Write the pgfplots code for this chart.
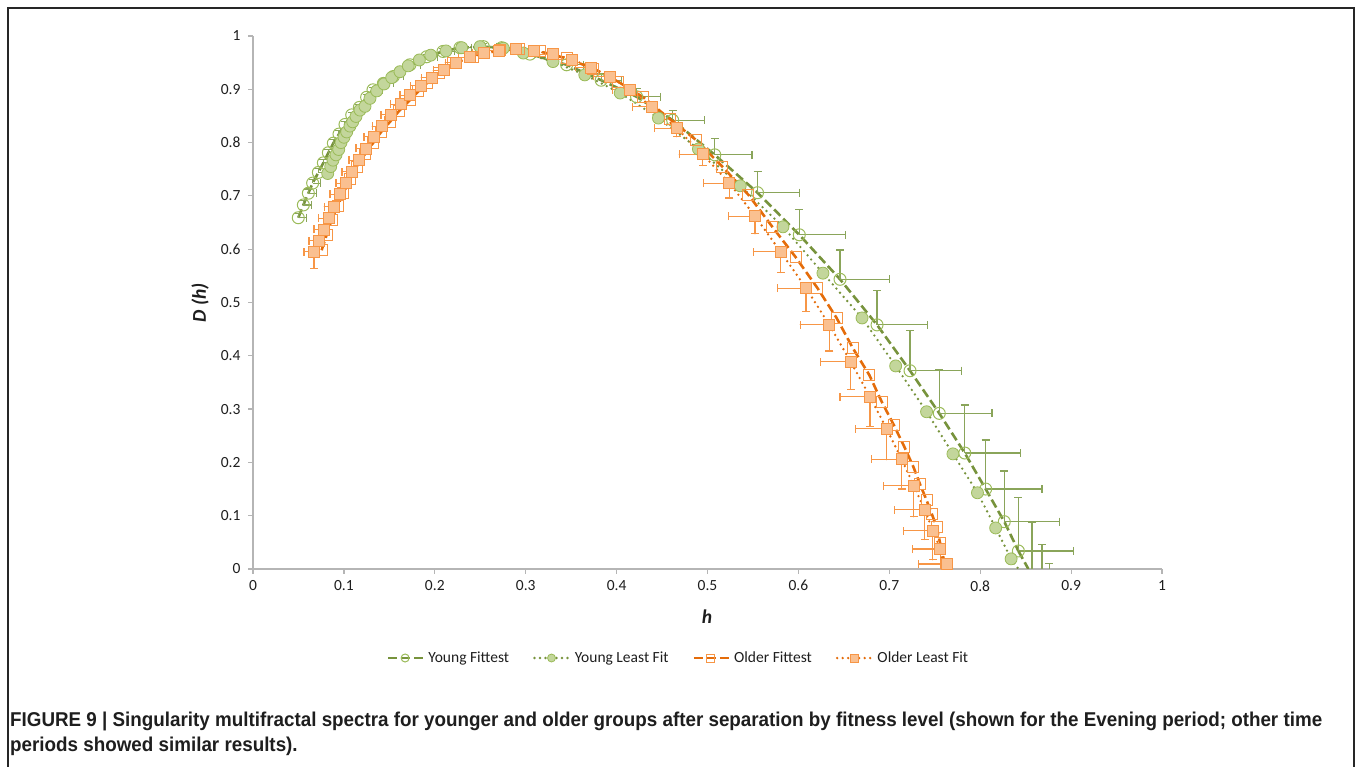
\documentclass[border=0pt]{standalone}
\usepackage{fontspec}
\setmainfont{Carlito}
\newfontfamily\capfont{Liberation Sans}
\usepackage{pgfplots}
\usepackage{pgfplotstable}
\pgfplotsset{compat=1.18}
\definecolor{gdark}{HTML}{77933C}
\definecolor{gbar}{HTML}{8AA55A}
\definecolor{gfill}{HTML}{C3D69B}
\definecolor{gedge}{HTML}{9BBB59}
\definecolor{odark}{HTML}{E46C0A}
\definecolor{ofill}{HTML}{FAC090}
\definecolor{oedge}{HTML}{F79646}
\definecolor{axgray}{HTML}{B5B5B5}
\definecolor{txt}{HTML}{1E1E1E}
\newlength\capw
\newcommand\capone{FIGURE 9 | Singularity multifractal spectra for younger and older groups after separation by fitness level (shown for the Evening period; other time}
\newcommand\capsty{\capfont\bfseries\fontsize{20pt}{22pt}\selectfont}

\pgfplotstableread{
h D ex ey
0.0498 0.659 0.009 0.008
0.0554 0.683 0.009 0.008
0.0609 0.705 0.009 0.008
0.0656 0.724 0.009 0.007
0.0719 0.744 0.009 0.007
0.0774 0.762 0.009 0.007
0.0829 0.781 0.009 0.006
0.0884 0.799 0.009 0.006
0.0946 0.816 0.009 0.006
0.1012 0.834 0.010 0.006
0.1086 0.852 0.010 0.005
0.1170 0.866 0.010 0.005
0.1250 0.885 0.010 0.005
0.1320 0.899 0.010 0.005
0.1434 0.911 0.011 0.005
0.1544 0.924 0.011 0.005
0.1727 0.946 0.012 0.005
0.1910 0.961 0.012 0.005
0.2090 0.971 0.013 0.005
0.2277 0.978 0.013 0.005
0.2534 0.980 0.014 0.006
0.2736 0.978 0.015 0.007
0.3047 0.966 0.017 0.008
0.3450 0.946 0.019 0.010
0.3830 0.917 0.022 0.012
0.4220 0.886 0.026 0.015
0.4617 0.842 0.035 0.019
0.5080 0.777 0.041 0.031
0.5550 0.706 0.046 0.039
0.6010 0.627 0.051 0.048
0.6458 0.5435 0.054 0.055
0.6865 0.458 0.056 0.064
0.7228 0.372 0.057 0.075
0.7550 0.292 0.058 0.082
0.7830 0.2176 0.061 0.090
0.8060 0.150 0.062 0.092
0.8265 0.0888 0.061 0.095
0.8420 0.0338 0.061 0.100
}\YF

\pgfplotstableread{
h D ex ey
0.857 -0.013 0.059 0.100
0.868 -0.060 0.000 0.106
0.876 -0.090 0.000 0.101
}\YFhidden

\pgfplotstableread{
h D
0.0822 0.742
0.0855 0.755
0.0880 0.767
0.0913 0.777
0.0943 0.787
0.0968 0.800
0.1001 0.810
0.1031 0.820
0.1067 0.831
0.1097 0.839
0.1133 0.849
0.1177 0.861
0.1232 0.868
0.1287 0.883
0.1361 0.897
0.1441 0.910
0.1526 0.922
0.1617 0.933
0.1708 0.944
0.1830 0.955
0.1955 0.964
0.2123 0.972
0.2296 0.978
0.2497 0.980
0.2754 0.977
0.2974 0.968
0.3300 0.952
0.3650 0.927
0.4040 0.893
0.4460 0.846
0.4900 0.788
0.5360 0.719
0.5830 0.642
0.6270 0.555
0.6700 0.471
0.7070 0.381
0.7410 0.295
0.7700 0.216
0.7970 0.143
0.8170 0.077
0.8340 0.019
}\YL

\pgfplotstableread{
h D
0.0755 0.598
0.0810 0.627
0.0865 0.655
0.0930 0.681
0.0994 0.705
0.1065 0.731
0.1140 0.755
0.1230 0.778
0.1320 0.799
0.1410 0.820
0.1507 0.839
0.1610 0.860
0.1727 0.880
0.1820 0.896
0.1910 0.911
0.2050 0.931
0.2204 0.949
0.2424 0.961
0.2717 0.974
0.2930 0.975
0.3157 0.971
0.3450 0.958
0.3744 0.939
0.4019 0.914
0.4294 0.885
0.4587 0.844
0.4873 0.805
0.5163 0.755
0.5450 0.702
0.5713 0.642
0.5970 0.585
0.6210 0.527
0.6420 0.471
0.6600 0.414
0.6780 0.364
0.6916 0.314
0.7050 0.270
0.7166 0.229
0.7264 0.192
0.7338 0.159
0.7410 0.129
0.7466 0.104
0.7520 0.079
0.7560 0.048
}\OF

\pgfplotstableread{
h D ex ey
0.0671 0.595 0.011 0.031
0.0726 0.616 0.011 0.006
0.0781 0.637 0.011 0.006
0.0833 0.658 0.011 0.006
0.0894 0.680 0.011 0.006
0.0957 0.703 0.011 0.006
0.1023 0.724 0.011 0.006
0.1089 0.745 0.011 0.006
0.1166 0.767 0.011 0.006
0.1243 0.789 0.011 0.006
0.1331 0.811 0.011 0.006
0.1422 0.831 0.011 0.006
0.1518 0.852 0.011 0.006
0.1625 0.872 0.011 0.006
0.1727 0.889 0.011 0.006
0.1845 0.907 0.011 0.006
0.1969 0.922 0.012 0.006
0.2101 0.936 0.012 0.006
0.2233 0.950 0.012 0.006
0.2387 0.960 0.013 0.006
0.2545 0.968 0.013 0.006
0.2710 0.972 0.014 0.006
0.2893 0.975 0.014 0.006
0.3090 0.972 0.015 0.006
0.3300 0.966 0.015 0.006
0.3513 0.956 0.016 0.007
0.3718 0.941 0.017 0.007
0.3927 0.924 0.018 0.008
0.4147 0.899 0.019 0.008
0.4386 0.867 0.021 0.010
0.4661 0.827 0.024 0.016
0.4947 0.778 0.026 0.021
0.5240 0.724 0.028 0.028
0.5523 0.662 0.029 0.033
0.5805 0.595 0.030 0.039
0.6084 0.527 0.031 0.044
0.6340 0.458 0.032 0.049
0.6575 0.389 0.033 0.052
0.6788 0.323 0.033 0.055
0.6970 0.263 0.034 0.058
0.7136 0.206 0.033 0.056
0.7270 0.156 0.033 0.058
0.7390 0.111 0.033 0.056
0.7480 0.072 0.032 0.055
0.7560 0.0375 0.030 0.045
0.7630 0.0094 0.031 0.030
}\OL

\tikzset{
  ydash/.style={gdark, line width=2.6pt, dash pattern=on 9pt off 4pt},
  ydot/.style={gdark, line width=2.6pt, line cap=round, dash pattern=on 0pt off 5.5pt},
  odash/.style={odark, line width=2.6pt, dash pattern=on 9pt off 4pt},
  odot/.style={odark, line width=2.6pt, line cap=round, dash pattern=on 0pt off 5.5pt},
}

\begin{document}
\settowidth\capw{\capsty\capone}%
\pgfmathsetmacro\capscale{1312/\capw}%
\begin{tikzpicture}[x=1pt,y=1pt]
\useasboundingbox (0,0) rectangle (1357,767);
\draw[line width=1.5pt, black!85] (8,0) -- (8,759) -- (1354,759) -- (1354,0);

\begin{axis}[
  at={(253pt,198pt)}, anchor=south west,
  scale only axis, width=909pt, height=533pt,
  xmin=0, xmax=1, ymin=0, ymax=1,
  axis x line*=bottom, axis y line*=left,
  axis line style={axgray, line width=1.3pt, -},
  xtick={0,0.1,0.2,0.3,0.4,0.5,0.6,0.7,0.8,0.9,1},
  ytick={0,0.1,0.2,0.3,0.4,0.5,0.6,0.7,0.8,0.9,1},
  xticklabels={0,0.1,0.2,0.3,0.4,0.5,0.6,0.7,0.8,0.9,1},
  yticklabels={0,0.1,0.2,0.3,0.4,0.5,0.6,0.7,0.8,0.9,1},
  tick align=outside, major tick length=5pt,
  tick style={axgray, line width=1.2pt},
  ticklabel style={font=\fontsize{15.5pt}{17pt}\selectfont, text=txt},
  xticklabel style={yshift=-3pt},
  yticklabel style={xshift=-4pt},
  xlabel={\bfseries\itshape h},
  ylabel={\bfseries\itshape D (h)},
  label style={font=\fontsize{19.5pt}{21pt}\selectfont, text=txt},
  xlabel style={at={(axis description cs:0.4994,-0.090)}, anchor=center},
  ylabel style={at={(axis description cs:-0.0583,0.499)}, anchor=center},
  legend columns=4,
  legend style={at={(axis description cs:0.4681,-0.167)}, anchor=center, draw=none, fill=none,
    font=\fontsize{15.5pt}{17pt}\selectfont, text=txt,
    /tikz/every odd column/.append style={column sep=2pt},
    /tikz/every even column/.append style={column sep=22pt}},
  legend image code/.code={\draw[mark repeat=2,mark phase=2,mark size=4pt] plot coordinates {(0pt,0pt) (17pt,0pt) (35pt,0pt)};},
]
% Young Fittest
\addplot[ydash, mark=o, mark size=6pt, mark options={solid, draw=gedge, line width=1pt},
  error bars/.cd, x dir=plus, y dir=plus, x explicit, y explicit,
  error bar style={gbar, line width=1.1pt, solid},
  error mark options={rotate=90, gbar, mark size=4pt, line width=1.1pt, solid}]
  table[x=h, y=D, x error=ex, y error=ey]{\YF};
\addlegendentry{Young Fittest}
% Young Least Fit
\addplot[ydot, mark=*, mark size=6pt, mark options={solid, fill=gfill, draw=gedge, line width=0.8pt}]
  table[x=h, y=D]{\YL};
\addlegendentry{Young Least Fit}
% Older Fittest
\addplot[odash, mark=square, mark size=5.5pt, mark options={solid, draw=oedge, line width=1pt}]
  table[x=h, y=D]{\OF};
\addlegendentry{Older Fittest}
% Older Least Fit
\addplot[odot, mark=square*, mark size=5.5pt, mark options={solid, fill=ofill, draw=oedge, line width=0.8pt},
  error bars/.cd, x dir=minus, y dir=minus, x explicit, y explicit,
  error bar style={oedge, line width=1.1pt, solid},
  error mark options={rotate=90, oedge, mark size=4pt, line width=1.1pt, solid}]
  table[x=h, y=D, x error=ex, y error=ey]{\OL};
\addlegendentry{Older Least Fit}
% tails to the axis
\addplot[forget plot, ydash, mark=none] coordinates {(0.8420,0.0338) (0.853,0)};
\addplot[forget plot, ydot, mark=none] coordinates {(0.8340,0.019) (0.842,0)};
\addplot[forget plot, odash, mark=none] coordinates {(0.7560,0.048) (0.7595,0)};
\addplot[forget plot, odot, mark=none] coordinates {(0.7630,0.0094) (0.765,0)};
% error bars of points below the axis
\addplot[forget plot, only marks, mark=none,
  error bars/.cd, x dir=plus, y dir=plus, x explicit, y explicit,
  error bar style={gbar, line width=1.1pt, solid},
  error mark options={rotate=90, gbar, mark size=4pt, line width=1.1pt, solid}]
  table[x=h, y=D, x error=ex, y error=ey]{\YFhidden};
\end{axis}

\node[anchor=base west, inner sep=0pt, text=txt] at (10,40) {\scalebox{\capscale}[1]{\capsty\capone}};
\node[anchor=base west, inner sep=0pt, text=txt] at (10,15) {\scalebox{\capscale}[1]{\capsty periods showed similar results).}};
\end{tikzpicture}
\end{document}
